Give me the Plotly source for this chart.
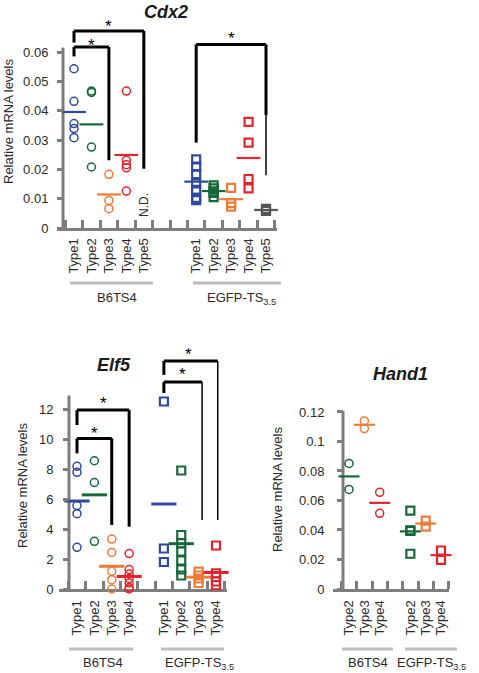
import numpy as np
import plotly.graph_objects as go

W, H = 479, 673
FONT = "Liberation Sans, Arial, sans-serif"

# ---------------- data ----------------
types5 = ["Type1", "Type2", "Type3", "Type4", "Type5"]
types4 = ["Type1", "Type2", "Type3", "Type4"]
types_hand1 = ["Type2", "Type3", "Type4"]
groups = ["B6TS4", "EGFP-TS<sub>3.5</sub>"]

type_colors = {"Type1": "#2f4a9c", "Type2": "#16683a", "Type3": "#ef7b38",
               "Type4": "#e0262c", "Type5": "#555555"}

cdx2_b6 = [[0.0543, 0.0432, 0.0356, 0.0339, 0.0308],
           [0.0467, 0.0462, 0.0276, 0.0208],
           [0.0183, 0.0094, 0.0066],
           [0.0467, 0.0231, 0.0216, 0.0205, 0.0126],
           []]  # Type5 not detected
cdx2_egfp = [[0.0234, 0.0209, 0.0184, 0.0152, 0.0130, 0.0103, 0.0095],
             [0.0145, 0.0135, 0.0125, 0.0120, 0.0105],
             [0.0137, 0.0085, 0.0073],
             [0.0362, 0.0291, 0.0167, 0.0135],
             [0.0065, 0.0058]]

elf5_b6 = [[8.18, 7.78, 5.56, 5.02, 2.78],
           [8.55, 7.10, 3.18],
           [3.33, 2.44, 1.18, 0.62, 0.0],
           [2.36, 1.30, 1.00, 0.70, 0.40, 0.10, 0.0]]
elf5_egfp = [[12.5, 2.7, 1.8],
             [7.9, 3.6, 3.05, 2.5, 1.9, 1.3, 0.9],
             [1.16, 0.9, 0.7, 0.4],
             [2.9, 1.05, 0.8, 0.5, 0.25]]

hand1_b6 = [[0.0851, 0.0675], [0.1139, 0.1087], [0.0655, 0.0513]]
hand1_egfp = [[0.0531, 0.0398, 0.0394, 0.0239], [0.0464, 0.0423], [0.0261, 0.0198]]

cdx2_yticks = [0, 0.01, 0.02, 0.03, 0.04, 0.05, 0.06]
elf5_yticks = [0, 2, 4, 6, 8, 10, 12]
hand1_yticks = [0, 0.02, 0.04, 0.06, 0.08, 0.1, 0.12]

# ---------------- layout geometry (pixels) ----------------
panels = {
    "cdx2": dict(xd=(57, 277), yd=(5, 228), xr=(0.026, 12.63), yr=(0, 0.07603), yax=63, ytop=0.0615,
                 ax="x", ay="y", ystand=6, xstand=2),
    "elf5": dict(xd=(59, 227), yd=(340, 589), xr=(-0.036, 9.633), yr=(0, 16.6), yax=69, ytop=12.9,
                 ax="x2", ay="y2", ystand=7, xstand=3),
    "hand1": dict(xd=(333, 449), yd=(400, 589), xr=(-0.044, 7.52), yr=(0, 0.1281), yax=343, ytop=0.1207,
                  ax="x3", ay="y3", ystand=10, xstand=3),
}


def px_x(p):
    return p / W


def px_y(p):
    return 1 - p / H


def val_to_paper_y(panel, v):
    P = panels[panel]
    b, t = px_y(P["yd"][1]), px_y(P["yd"][0])
    return b + (v - P["yr"][0]) / (P["yr"][1] - P["yr"][0]) * (t - b)


fig = go.Figure()
shapes = []
annotations = []

AXIS_GRAY = "#7d7d7d"
TXT = "#2a2a2a"


def add_group(panel, data, labels, positions, symbol, lw, mean_w, mean_size):
    P = panels[panel]
    for vals, lab, pos in zip(data, labels, positions):
        if len(vals) == 0:
            continue
        c = type_colors[lab]
        fig.add_trace(go.Scatter(
            x=[pos] * len(vals), y=vals, mode="markers", xaxis=P["ax"], yaxis=P["ay"],
            marker=dict(symbol=symbol, size=8, color=c, line=dict(color=c, width=lw)),
            cliponaxis=False, showlegend=False, hoverinfo="y"))
        fig.add_trace(go.Scatter(
            x=[pos], y=[float(np.mean(vals))], mode="markers", xaxis=P["ax"], yaxis=P["ay"],
            marker=dict(symbol="line-ew", size=mean_size, color=c, line=dict(color=c, width=mean_w)),
            cliponaxis=False, showlegend=False, hoverinfo="y"))


cdx2_pos_b6 = [1, 2, 3, 4, 5]
cdx2_pos_egfp = [8, 9, 10, 11, 12]
add_group("cdx2", cdx2_b6, types5, cdx2_pos_b6, "circle-open", 1.5, 2.2, 17)
add_group("cdx2", cdx2_egfp, types5, cdx2_pos_egfp, "square-open", 2.2, 2.2, 17)

elf5_pos_b6 = [1, 2, 3, 4]
elf5_pos_egfp = [6, 7, 8, 9]
add_group("elf5", elf5_b6, types4, elf5_pos_b6, "circle-open", 1.5, 3, 18)
add_group("elf5", elf5_egfp, types4, elf5_pos_egfp, "square-open", 2.2, 3, 18)

hand1_pos_b6 = [1, 2, 3]
hand1_pos_egfp = [5, 6, 7]
add_group("hand1", hand1_b6, types_hand1, hand1_pos_b6, "circle-open", 1.5, 2.2, 15)
add_group("hand1", hand1_egfp, types_hand1, hand1_pos_egfp, "square-open", 2.2, 2.2, 15)

annotations.append(dict(x=5, y=0.0078, xref="x", yref="y", text="N.D.", textangle=-90,
                        xanchor="center", yanchor="middle",
                        showarrow=False, font=dict(family=FONT, size=12, color=TXT)))


# ---------------- significance brackets ----------------
def bracket(panel, x0, x1, top, lbot, rbot, w=3, rw=None, rthick_to=None):
    P = panels[panel]
    xr, yr = P["ax"], P["ay"]
    line = dict(color="black", width=w)
    shapes.append(dict(type="line", xref=xr, yref=yr, x0=x0, x1=x0, y0=lbot, y1=top, line=line))
    shapes.append(dict(type="line", xref=xr, yref=yr, x0=x0, x1=x1, y0=top, y1=top, line=line))
    if rthick_to is not None:
        shapes.append(dict(type="line", xref=xr, yref=yr, x0=x1, x1=x1, y0=rthick_to, y1=top, line=line))
        shapes.append(dict(type="line", xref=xr, yref=yr, x0=x1, x1=x1, y0=rbot, y1=rthick_to,
                           line=dict(color="black", width=rw or 1.5)))
    else:
        shapes.append(dict(type="line", xref=xr, yref=yr, x0=x1, x1=x1, y0=rbot, y1=top,
                           line=dict(color="black", width=rw or w)))


def star(panel, x, y):
    P = panels[panel]
    annotations.append(dict(x=x, y=y, xref=P["ax"], yref=P["ay"], text="*", showarrow=False,
                            xanchor="center", yanchor="middle",
                            font=dict(family=FONT, size=17, color="black"), yshift=-3))


bracket("cdx2", 1, 3, 0.0617, 0.0585, 0.0231)
bracket("cdx2", 1, 5, 0.0672, 0.0632, 0.0202)
star("cdx2", 2, 0.0632)
star("cdx2", 3, 0.0697)
bracket("cdx2", 8, 12, 0.0626, 0.0291, 0.0180, rthick_to=0.0385)
star("cdx2", 10, 0.0658)

bracket("elf5", 1, 3, 10.04, 9.04, 4.27)
bracket("elf5", 1, 4, 11.93, 10.93, 4.15)
star("elf5", 2, 10.6)
star("elf5", 2.5, 12.6)
bracket("elf5", 6, 8.2, 13.8, 13.07, 4.6, rw=1.5)
bracket("elf5", 6, 9.1, 15.2, 14.27, 4.6, rw=1.5)
star("elf5", 7.1, 14.5)
star("elf5", 7.4, 15.85)

# ---------------- axes ----------------
layout_axes = {}


def setup_axes(panel, xname, yname, tickpos, ticklabels, yticks, ytext):
    P = panels[panel]
    layout_axes[xname] = dict(
        domain=[px_x(P["xd"][0]), px_x(P["xd"][1])], range=list(P["xr"]),
        anchor=P["ay"], showgrid=False, zeroline=False, automargin=False,
        showline=True, linecolor=AXIS_GRAY, linewidth=3, layer="below traces",
        tickmode="array", tickvals=tickpos, ticktext=ticklabels, ticks="",
        tickangle=-90, tickfont=dict(family=FONT, size=13, color=TXT),
        ticklabelstandoff=P["xstand"],
        minor=dict(ticks="inside", tick0=0.5, dtick=1, ticklen=8, tickwidth=2.5,
                   tickcolor=AXIS_GRAY, showgrid=False),
        fixedrange=True)
    layout_axes[yname] = dict(
        domain=[px_y(P["yd"][1]), px_y(P["yd"][0])], range=list(P["yr"]),
        anchor="free", position=px_x(P["yax"]), showgrid=False, zeroline=False,
        automargin=False,
        showline=False, tickmode="array", tickvals=yticks, ticktext=ytext,
        ticks="outside", ticklen=6, tickwidth=2.5, tickcolor=AXIS_GRAY,
        ticklabelstandoff=P["ystand"],
        tickfont=dict(family=FONT, size=13, color=TXT), fixedrange=True)
    shapes.append(dict(type="line", xref="paper", yref="paper",
                       x0=px_x(P["yax"]), x1=px_x(P["yax"]),
                       y0=val_to_paper_y(panel, 0) - 1.5 / H, y1=val_to_paper_y(panel, P["ytop"]),
                       line=dict(color=AXIS_GRAY, width=3), layer="below"))


setup_axes("cdx2", "xaxis", "yaxis", cdx2_pos_b6 + cdx2_pos_egfp, types5 + types5,
           cdx2_yticks, ["0", "0.01", "0.02", "0.03", "0.04", "0.05", "0.06"])
setup_axes("elf5", "xaxis2", "yaxis2", elf5_pos_b6 + elf5_pos_egfp, types4 + types4,
           elf5_yticks, [str(v) for v in elf5_yticks])
setup_axes("hand1", "xaxis3", "yaxis3", hand1_pos_b6 + hand1_pos_egfp, types_hand1 + types_hand1,
           hand1_yticks, ["0", "0.02", "0.04", "0.06", "0.08", "0.1", "0.12"])


# ---------------- titles / labels ----------------
def paper_text(text, xpx, ypx, size=13, angle=0, color=TXT):
    annotations.append(dict(x=px_x(xpx), y=px_y(ypx), xref="paper", yref="paper",
                            text=text, textangle=angle, showarrow=False,
                            xanchor="center", yanchor="middle",
                            font=dict(family=FONT, size=size, color=color)))


paper_text("<b><i>Cdx2</i></b>", 166, 12, size=18, color="#1a1a1a")
paper_text("<b><i>Elf5</i></b>", 114, 365, size=18, color="#1a1a1a")
paper_text("<b><i>Hand1</i></b>", 400, 374, size=18, color="#1a1a1a")

paper_text("Relative mRNA levels", 8, 122, angle=-90)
paper_text("Relative mRNA levels", 22, 486, angle=-90)
paper_text("Relative mRNA levels", 277, 490, angle=-90)


def group_label(text, x0px, x1px, ylinepx, ytextpx, xtextpx):
    shapes.append(dict(type="line", xref="paper", yref="paper",
                       x0=px_x(x0px), x1=px_x(x1px), y0=px_y(ylinepx), y1=px_y(ylinepx),
                       line=dict(color="#bdbdbd", width=3)))
    paper_text(text, xtextpx, ytextpx)


group_label(groups[0], 70, 153, 283, 297, 117)
group_label(groups[1], 193, 281, 283, 298, 242)
group_label(groups[0], 69, 133, 649, 662, 103)
group_label(groups[1], 161, 224, 649, 663, 199)
group_label(groups[0], 342, 393, 649, 662, 368)
group_label(groups[1], 405, 457, 649, 663, 431)

fig.update_layout(
    width=W, height=H, margin=dict(l=0, r=0, t=0, b=0, autoexpand=False),
    paper_bgcolor="white", plot_bgcolor="rgba(0,0,0,0)",
    shapes=shapes, annotations=annotations, showlegend=False,
    font=dict(family=FONT, color=TXT),
    **layout_axes)

fig.write_html("out.html", config={"displayModeBar": False},
               post_script="document.body.style.margin='0px';document.body.style.overflow='hidden';")
